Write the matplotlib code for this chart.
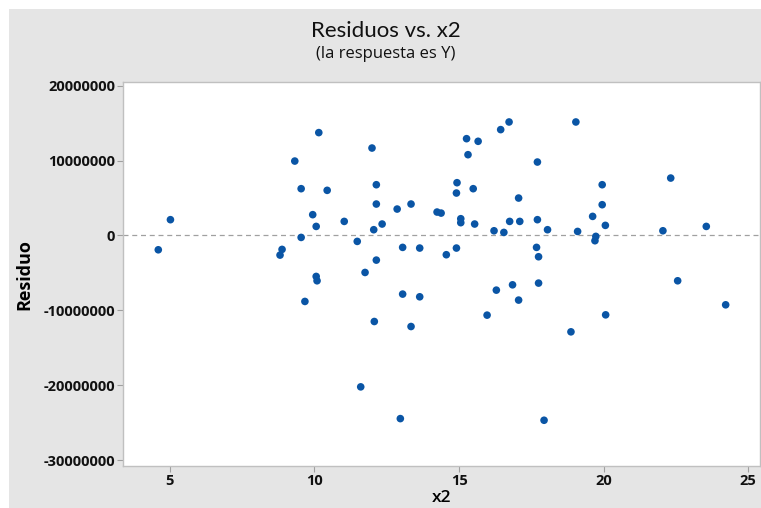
import matplotlib
matplotlib.use("Agg")
import matplotlib.pyplot as plt
from matplotlib.patches import Rectangle

# Data (x2, residual)
x2 = [10.15, 9.32, 9.54, 10.44, 5.02, 9.94, 10.06, 11.03, 9.54, 11.48,
      4.60, 8.88, 8.81, 10.06, 10.09, 9.67, 11.60,
      11.99, 16.73, 16.44, 15.26, 15.66, 15.31, 17.71, 12.14, 14.93, 14.91,
      15.49, 17.06, 12.14, 13.34, 12.86, 14.24, 14.38, 15.06, 15.06, 12.34,
      12.05, 15.54, 16.75, 17.10, 17.71, 16.21, 16.55, 18.06, 13.05, 13.64,
      14.91, 14.56, 17.68, 17.75, 12.14, 11.75, 13.05, 13.64, 16.29, 16.85,
      17.06, 17.75, 12.07, 13.34, 15.97,
      12.97, 17.94,
      19.04, 22.32, 19.95, 19.95, 19.62, 20.06, 19.10, 22.05, 23.55, 19.73,
      19.70, 22.56, 24.22, 20.07,
      18.87]
residuo = [13.73e6, 9.93e6, 6.24e6, 6.02e6, 2.10e6, 2.77e6, 1.20e6, 1.87e6, -0.27e6, -0.80e6,
           -1.92e6, -1.87e6, -2.63e6, -5.48e6, -6.06e6, -8.82e6, -20.23e6,
           11.67e6, 15.15e6, 14.13e6, 12.92e6, 12.57e6, 10.78e6, 9.80e6, 6.77e6, 7.04e6, 5.66e6,
           6.24e6, 4.99e6, 4.19e6, 4.19e6, 3.52e6, 3.12e6, 2.98e6, 2.23e6, 1.70e6, 1.52e6,
           0.76e6, 1.52e6, 1.87e6, 1.87e6, 2.10e6, 0.62e6, 0.40e6, 0.76e6, -1.60e6, -1.69e6,
           -1.69e6, -2.58e6, -1.60e6, -2.85e6, -3.30e6, -4.95e6, -7.84e6, -8.20e6, -7.31e6, -6.60e6,
           -8.64e6, -6.37e6, -11.50e6, -12.17e6, -10.65e6,
           -24.47e6, -24.69e6,
           15.15e6, 7.66e6, 6.77e6, 4.10e6, 2.54e6, 1.34e6, 0.53e6, 0.62e6, 1.20e6, -0.13e6,
           -0.71e6, -6.06e6, -9.27e6, -10.61e6,
           -12.88e6]

x_ticks = [5, 10, 15, 20, 25]
y_ticks = [20000000, 10000000, 0, -10000000, -20000000, -30000000]

title = "Residuos vs. x2"
subtitle = "(la respuesta es Y)"
xlabel = "x2"
ylabel = "Residuo"

plt.rcParams['font.family'] = ['Open Sans', 'DejaVu Sans']

W, H = 761, 508
fig = plt.figure(figsize=(W / 100, H / 100), dpi=100)
fig.patch.set_facecolor('white')
fig.patches.append(Rectangle((9 / W, 0), 1 - 9 / W, 1 - 9 / H, transform=fig.transFigure,
                             facecolor='#E5E5E5', edgecolor='none', zorder=-10))

ax = fig.add_axes([123.3 / W, 1 - 466 / H, (759.5 - 123.3) / W, (466 - 82.3) / H])
ax.set_facecolor('white')

ax.axhline(0, color='#A0A0A0', lw=0.9, ls=(0, (4, 3)), zorder=1)
ax.scatter(x2, residuo, s=30, color='#0A55A5', edgecolors='none', zorder=3)

ax.set_xlim(3.39, 25.39)
ax.set_ylim(-30.8e6, 20.45e6)
ax.set_xticks(x_ticks)
ax.set_yticks(y_ticks)
ax.set_xticklabels([str(v) for v in x_ticks], fontsize=10.5, fontweight='bold')
ax.set_yticklabels([str(v) for v in y_ticks], fontsize=10.5, fontweight='bold')

for s in ax.spines.values():
    s.set_color('#C0C0C0')
    s.set_linewidth(1.0)
ax.tick_params(axis='both', direction='out', length=4, width=0.8, color='#A0A0A0',
               labelcolor='#111111', pad=2)

ax.set_xlabel(xlabel, fontsize=12.5, fontweight='semibold', labelpad=1)
ax.set_ylabel(ylabel, fontsize=13, fontweight='bold', labelpad=7)

fig.text(386 / W, 1 - 31 / H, title, ha='center', va='center', fontsize=16,
         family=['Lato', 'DejaVu Sans'], color='#111111')
fig.text(386 / W, 1 - 54 / H, subtitle, ha='center', va='center', fontsize=12, color='#111111')

fig.savefig('out.png', dpi=100, facecolor=fig.get_facecolor())
